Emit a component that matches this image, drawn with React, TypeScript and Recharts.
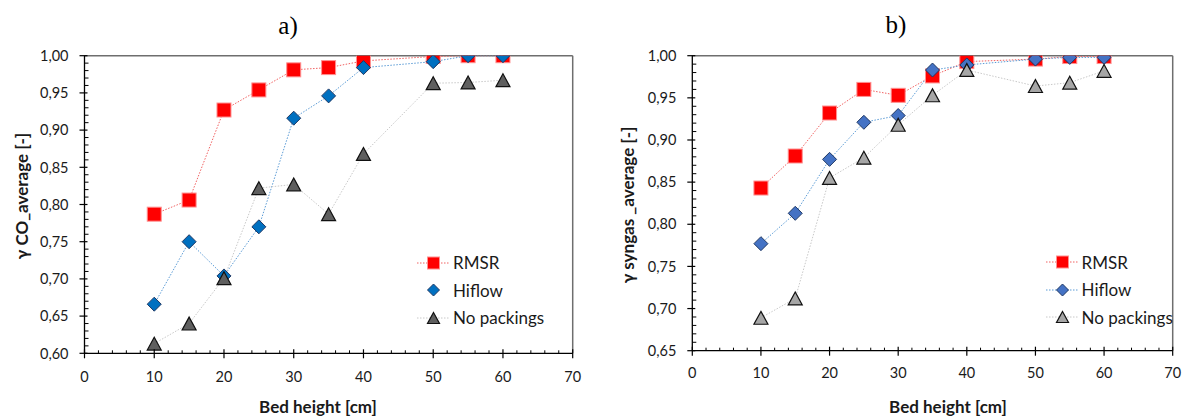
import React from 'react';
import { LineChart, Line, XAxis, YAxis, ReferenceLine, Legend, Label } from 'recharts';

// ---------- data ----------
const heights = [10, 15, 20, 25, 30, 35, 40, 50, 55, 60];
const coRMSR = [0.787, 0.806, 0.927, 0.954, 0.981, 0.984, 0.993, 0.999, 1.0, 1.0];
const coHiflow = [0.666, 0.75, 0.704, 0.77, 0.916, 0.946, 0.984, 0.992, 1.0, 1.0];
const coNoPack = [0.613, 0.64, 0.701, 0.822, 0.827, 0.787, 0.868, 0.963, 0.964, 0.967];
const syRMSR = [0.843, 0.881, 0.932, 0.96, 0.953, 0.976, 0.993, 0.996, 0.999, 0.999];
const syHiflow = [0.777, 0.813, 0.877, 0.921, 0.929, 0.983, 0.989, 0.996, 0.998, 0.998];
const syNoPack = [0.689, 0.712, 0.855, 0.879, 0.918, 0.953, 0.983, 0.964, 0.968, 0.982];

const seriesNames = ['RMSR', 'Hiflow', 'No packings'];
const panelTitles = ['a)', 'b)'];
const xTitle = 'Bed height [cm]';
const yTitles = ['γ CO_average [-]', 'γ syngas _average [-]'];
const xMajorTicks = [0, 10, 20, 30, 40, 50, 60, 70];
const yMajorTicksCO = [0.6, 0.65, 0.7, 0.75, 0.8, 0.85, 0.9, 0.95, 1.0];
const yMajorTicksSy = [0.65, 0.7, 0.75, 0.8, 0.85, 0.9, 0.95, 1.0];

const buildRows = (a: number[], b: number[], c: number[]) =>
  heights.map((h, i) => ({ h, rmsr: a[i], hiflow: b[i], nopack: c[i] }));
const coData = buildRows(coRMSR, coHiflow, coNoPack);
const syData = buildRows(syRMSR, syHiflow, syNoPack);

function withMinor(majors: number[], sub: number) {
  const out: number[] = [];
  for (let i = 0; i < majors.length - 1; i++) {
    const a = majors[i];
    const b = majors[i + 1];
    for (let k = 0; k < sub; k++) out.push(+(a + ((b - a) * k) / sub).toFixed(4));
  }
  out.push(majors[majors.length - 1]);
  return out;
}
const isMajor = (majors: number[], v: number) => majors.some((m) => Math.abs(m - v) < 1e-6);

const TICK_FONT = 'Lato, "Open Sans", sans-serif';

const makeYTick = (majors: number[]) => (props: any) => {
  const { x, y, payload } = props;
  const v = payload.value;
  const major = isMajor(majors, v);
  return (
    <g>
      {major ? (
        <line x1={x - 5} x2={x + 3} y1={y} y2={y} stroke="#000" strokeWidth={1.2} />
      ) : (
        <line x1={x} x2={x + 4} y1={y} y2={y} stroke="#000" strokeWidth={1} />
      )}
      {major && (
        <text x={x - 16} y={y} dy="0.36em" textAnchor="end" fontSize={14.5} fontFamily={TICK_FONT} fill="#1a1a1a">
          {v.toFixed(2).replace('.', ',')}
        </text>
      )}
    </g>
  );
};

const makeXTick = (labelOffset: number) => (props: any) => {
  const { x, y, payload } = props;
  const v = payload.value;
  const major = isMajor(xMajorTicks, v);
  return (
    <g>
      {major ? (
        <line x1={x} x2={x} y1={y - 4} y2={y + 5} stroke="#000" strokeWidth={1.2} />
      ) : (
        <line x1={x} x2={x} y1={y - 3} y2={y} stroke="#000" strokeWidth={1} />
      )}
      {major && (
        <text x={x} y={y + labelOffset} dy="0.36em" textAnchor="middle" fontSize={14.5} fontFamily={TICK_FONT} fill="#1a1a1a">
          {String(v)}
        </text>
      )}
    </g>
  );
};

// ---------- markers ----------
const Square = ({ cx, cy, size = 14 }: any) => (
  <rect x={cx - size / 2} y={cy - size / 2} width={size} height={size} fill="#FF0000" stroke="#FF9090" strokeWidth={1} />
);
const Diamond = ({ cx, cy, size = 14, fill }: any) => {
  const r = size / 2;
  return (
    <polygon
      points={`${cx},${cy - r} ${cx + r},${cy} ${cx},${cy + r} ${cx - r},${cy}`}
      fill={fill}
      stroke="#1F3864"
      strokeWidth={1}
    />
  );
};
const Triangle = ({ cx, cy, size = 14, fill }: any) => {
  const w = size;
  const h = size * 0.92;
  return (
    <polygon
      points={`${cx},${cy - h / 2} ${cx + w / 2},${cy + h / 2} ${cx - w / 2},${cy + h / 2}`}
      fill={fill}
      stroke="#111"
      strokeWidth={1.2}
      strokeLinejoin="miter"
    />
  );
};

const LINE_RED = '#F06262';
const LINE_BLUE = '#5B9BD5';
const LINE_GRAY = '#C8C8C8';

type PanelCfg = {
  data: any[];
  width: number;
  margin: any;
  yMajors: number[];
  yDomain: [number, number];
  diamondFill: string;
  triFill: string;
  yTitle: string;
  yTitlePos: [number, number];
  xTitlePos: [number, number];
  xLabelOffset: number;
  legendPos: [number, number];
  legendHiflowLine: boolean;
};

const LegendBox = ({ cfg }: { cfg: PanelCfg }) => {
  const rows = [
    { name: seriesNames[0], color: LINE_RED, line: true, m: (cx: number, cy: number) => <Square cx={cx} cy={cy} size={12} /> },
    { name: seriesNames[1], color: LINE_BLUE, line: cfg.legendHiflowLine, m: (cx: number, cy: number) => <Diamond cx={cx} cy={cy} size={12} fill={cfg.diamondFill} /> },
    { name: seriesNames[2], color: LINE_GRAY, line: true, m: (cx: number, cy: number) => <Triangle cx={cx} cy={cy} size={12} fill={cfg.triFill} /> },
  ];
  return (
    <div style={{ display: 'flex', flexDirection: 'column' }}>
      {rows.map((r) => (
        <div key={r.name} style={{ height: 27.5, display: 'flex', alignItems: 'center' }}>
          <svg width={33} height={20} style={{ display: 'block' }}>
            {r.line && <line x1={0} x2={33} y1={10} y2={10} stroke={r.color} strokeWidth={1} strokeDasharray="1.5 1.5" />}
            {r.m(16.5, 10)}
          </svg>
          <span style={{ marginLeft: 3, fontFamily: TICK_FONT, fontSize: 17, color: '#1a1a1a', whiteSpace: 'nowrap' }}>{r.name}</span>
        </div>
      ))}
    </div>
  );
};

const Panel = ({ cfg }: { cfg: PanelCfg }) => {
  const yTicks = withMinor(cfg.yMajors, 5);
  const xTicks = withMinor(xMajorTicks, 5);
  return (
    <LineChart width={cfg.width} height={418} data={cfg.data} margin={cfg.margin}>
      <XAxis
        dataKey="h"
        type="number"
        domain={[0, 70]}
        ticks={xTicks}
        interval={0}
        tickSize={0}
        tickMargin={0}
        height={30}
        axisLine={{ stroke: '#000', strokeWidth: 1.3 }}
        tickLine={false}
        tick={makeXTick(cfg.xLabelOffset)}
      >
        <Label
          content={() => (
            <text x={cfg.xTitlePos[0]} y={cfg.xTitlePos[1]} dy="0.36em" textAnchor="middle" fontFamily={TICK_FONT} fontWeight={700} fontSize={17} fill="#1a1a1a">
              {xTitle}
            </text>
          )}
        />
      </XAxis>
      <YAxis
        type="number"
        domain={cfg.yDomain}
        ticks={yTicks}
        interval={0}
        width={60}
        tickSize={0}
        tickMargin={0}
        axisLine={{ stroke: '#000', strokeWidth: 1.3 }}
        tickLine={false}
        tick={makeYTick(cfg.yMajors)}
        allowDataOverflow
      >
        <Label
          content={() => (
            <text
              x={cfg.yTitlePos[0]}
              y={cfg.yTitlePos[1]}
              dy="0.36em"
              textAnchor="middle"
              transform={`rotate(-90 ${cfg.yTitlePos[0]} ${cfg.yTitlePos[1]})`}
              fontFamily={TICK_FONT}
              fontWeight={700}
              fontSize={17}
              fill="#1a1a1a"
            >
              {cfg.yTitle}
            </text>
          )}
        />
      </YAxis>
      <ReferenceLine y={cfg.yDomain[1]} stroke="#6E6E6E" strokeWidth={1.5} />
      <ReferenceLine x={70} stroke="#6E6E6E" strokeWidth={1.5} />
      <Line
        dataKey="rmsr"
        name={seriesNames[0]}
        stroke={LINE_RED}
        strokeWidth={1}
        strokeDasharray="1.5 1.5"
        isAnimationActive={false}
        activeDot={false}
        dot={(p: any) => <Square key={`s${p.index}`} cx={p.cx} cy={p.cy} />}
      />
      <Line
        dataKey="hiflow"
        name={seriesNames[1]}
        stroke={LINE_BLUE}
        strokeWidth={1}
        strokeDasharray="1.5 1.5"
        isAnimationActive={false}
        activeDot={false}
        dot={(p: any) => <Diamond key={`d${p.index}`} cx={p.cx} cy={p.cy} fill={cfg.diamondFill} />}
      />
      <Line
        dataKey="nopack"
        name={seriesNames[2]}
        stroke={LINE_GRAY}
        strokeWidth={1}
        strokeDasharray="1.5 1.5"
        isAnimationActive={false}
        activeDot={false}
        dot={(p: any) => <Triangle key={`t${p.index}`} cx={p.cx} cy={p.cy} fill={cfg.triFill} />}
      />
      <Legend
        layout="vertical"
        align="center"
        verticalAlign="middle"
        wrapperStyle={{ left: cfg.legendPos[0], top: cfg.legendPos[1], width: 160 }}
        content={() => <LegendBox cfg={cfg} />}
      />
    </LineChart>
  );
};

const leftCfg: PanelCfg = {
  data: coData,
  width: 600,
  margin: { top: 55.7, right: 27.3, bottom: 34.7, left: 24.5 },
  yMajors: yMajorTicksCO,
  yDomain: [0.6, 1.0],
  diamondFill: '#0070C0',
  triFill: '#5F5F5F',
  yTitle: yTitles[0],
  yTitlePos: [22, 196],
  xTitlePos: [318, 407],
  xLabelOffset: 23,
  legendPos: [417, 249],
  legendHiflowLine: false,
};

const rightCfg: PanelCfg = {
  data: syData,
  width: 587,
  margin: { top: 55.7, right: 14.3, bottom: 37.3, left: 32.3 },
  yMajors: yMajorTicksSy,
  yDomain: [0.65, 1.0],
  diamondFill: '#4472C4',
  triFill: '#A6A6A6',
  yTitle: yTitles[1],
  yTitlePos: [28, 205],
  xTitlePos: [348, 407],
  xLabelOffset: 22,
  legendPos: [445.6, 248.5],
  legendHiflowLine: true,
};

export default function App() {
  return (
    <div style={{ position: 'absolute', left: 0, top: 0, width: 1187, height: 418, background: '#fff', overflow: 'hidden' }}>
      <div style={{ position: 'absolute', left: 0, top: 0 }}>
        <Panel cfg={leftCfg} />
      </div>
      <div style={{ position: 'absolute', left: 600, top: 0 }}>
        <Panel cfg={rightCfg} />
      </div>
      <svg width={1187} height={60} style={{ position: 'absolute', left: 0, top: 0, pointerEvents: 'none' }}>
        <text x={288} y={34} textAnchor="middle" fontFamily='"Liberation Serif", "Times New Roman", serif' fontSize={25} fill="#000">
          {panelTitles[0]}
        </text>
        <text x={896} y={33} textAnchor="middle" fontFamily='"Liberation Serif", "Times New Roman", serif' fontSize={25} fill="#000">
          {panelTitles[1]}
        </text>
      </svg>
    </div>
  );
}
